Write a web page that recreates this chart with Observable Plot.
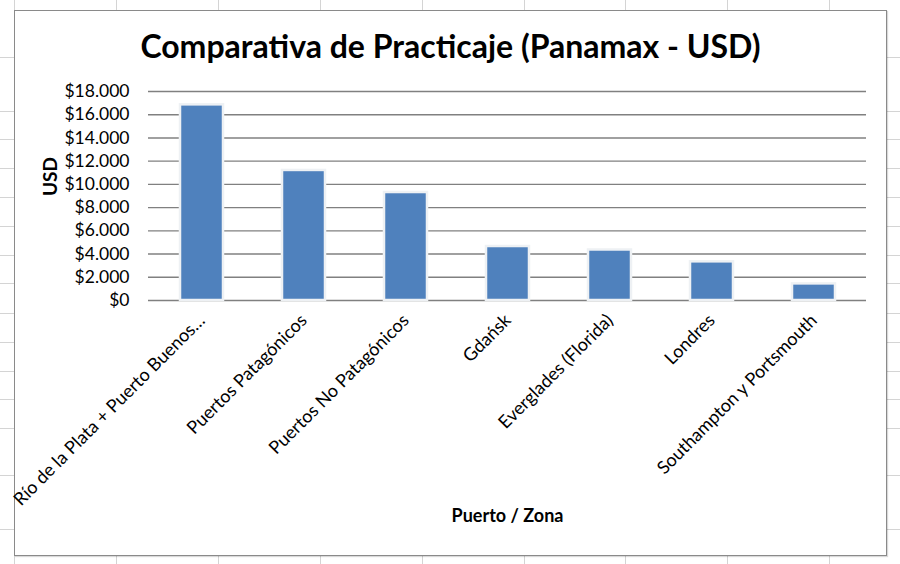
<!DOCTYPE html>
<html>
<head>
<meta charset="utf-8">
<script src="https://cdn.jsdelivr.net/npm/d3@7"></script>
<script src="https://cdn.jsdelivr.net/npm/@observablehq/plot@0.6"></script>
<style>
  html, body { margin: 0; padding: 0; background: #fff; }
  #page { position: relative; width: 900px; height: 564px; overflow: hidden; background: #fff; font-family: Lato, "Open Sans", sans-serif; }
  .vl { position: absolute; top: 0; width: 1px; height: 564px; background: #d4d4d4; }
  .hl { position: absolute; left: 0; height: 1px; width: 900px; background: #d4d4d4; }
  #frame { position: absolute; left: 14px; top: 10px; width: 871px; height: 544px; border: 1.5px solid #8a8a8a; background: #fff; box-shadow: 1px 1px 1px rgba(0,0,0,0.15); }
  #title { position: absolute; left: 0; width: 871px; top: 16px; text-align: center; font-weight: 700; font-size: 32px; color: #000; line-height: 38px; }
  #chart { position: absolute; left: 0px; top: 64px; }
</style>
</head>
<body>
<div id="page"></div>
<script>
// ---- data ----
const categories = [
  "Río de la Plata + Puerto Buenos…",
  "Puertos Patagónicos",
  "Puertos No Patagónicos",
  "Gdańsk",
  "Everglades (Florida)",
  "Londres",
  "Southampton y Portsmouth"
];
const values = [16850, 11200, 9300, 4650, 4350, 3330, 1430];
const yTicks = [0, 2000, 4000, 6000, 8000, 10000, 12000, 14000, 16000, 18000];
const titleText = "Comparativa de Practicaje (Panamax - USD)";
const yLabel = "USD";
const xLabel = "Puerto / Zona";

// spreadsheet background grid (decoration)
const sheetCols = [14, 116, 218, 320, 422, 524, 625, 727, 829];
const sheetRows = [57, 111, 139, 168, 197, 226, 255, 283, 313, 342, 371, 399, 428, 475, 529];

const page = document.getElementById("page");
for (const x of sheetCols) { const d = document.createElement("div"); d.className = "vl"; d.style.left = x + "px"; page.appendChild(d); }
for (const y of sheetRows) { const d = document.createElement("div"); d.className = "hl"; d.style.top = y + "px"; page.appendChild(d); }

const frame = document.createElement("div");
frame.id = "frame";
page.appendChild(frame);

const title = document.createElement("div");
title.id = "title";
title.textContent = titleText;
frame.appendChild(title);

const data = categories.map((c, i) => ({cat: c, val: values[i]}));
const locale = d3.formatLocale({decimal: ",", thousands: ".", grouping: [3], currency: ["$", ""]});
const fmt = locale.format("$,");

const chart = Plot.plot({
  width: 870,
  height: 475,
  marginLeft: 133,
  marginRight: 19,
  marginTop: 16,
  marginBottom: 250,
  style: {fontFamily: "Lato, 'Open Sans', sans-serif", fontSize: "17px", color: "#000", background: "transparent", overflow: "visible"},
  x: {domain: categories, paddingInner: 0.58, paddingOuter: 0.29, label: null},
  y: {domain: [0, 18000], label: null},
  marks: [
    Plot.gridY(yTicks, {stroke: "#808080", strokeOpacity: 1, strokeWidth: 1.4}),
    Plot.barY(data, {x: "cat", y: "val", fill: "#4f81bd", stroke: "#eef1f4", strokeWidth: 2.5}),
    Plot.axisY(yTicks, {tickSize: 0, tickPadding: 19, tickFormat: fmt, fontSize: 17.5, label: null}),
    Plot.axisX({tickSize: 0, tickPadding: 17, tickRotate: -45, fontSize: 18, label: null}),
    Plot.text([yLabel], {frameAnchor: "left", dx: -98, rotate: -90, fontWeight: "bold", fontSize: 19}),
    Plot.text([xLabel], {frameAnchor: "bottom", dy: 221, fontWeight: "bold", fontSize: 18})
  ]
});
chart.id = "chart";
frame.appendChild(chart);
</script>
</body>
</html>
